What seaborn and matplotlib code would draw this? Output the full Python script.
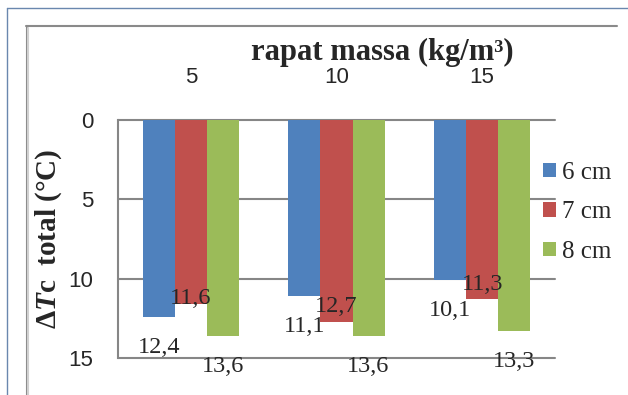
import matplotlib
matplotlib.use('Agg')
import matplotlib.pyplot as plt
import seaborn as sns
import pandas as pd
from matplotlib.lines import Line2D

# Data
rapat_massa = ['5', '10', '15']
tebal = ['6 cm', '7 cm', '8 cm']
dtc_6cm = [12.4, 11.1, 10.1]
dtc_7cm = [11.6, 12.7, 11.3]
dtc_8cm = [13.6, 13.6, 13.3]
warna = ['#4F81BD', '#C0504D', '#9BBB59']

# geser label (points), per seri
geser_label = [[-22, -22, -22], [4, 11, 11], [-22, -22, -22]]

sns.set_style('white')
plt.rcParams['font.family'] = ['Liberation Serif', 'DejaVu Serif']
plt.rcParams['mathtext.fontset'] = 'custom'
plt.rcParams['mathtext.rm'] = 'Liberation Serif:bold'
plt.rcParams['mathtext.it'] = 'Liberation Serif:bold:italic'

df = pd.DataFrame({
    'rapat': rapat_massa * 3,
    'tebal': [t for t in tebal for _ in rapat_massa],
    'dtc': dtc_6cm + dtc_7cm + dtc_8cm,
})

W, H = 628, 395
fig = plt.figure(figsize=(W / 100, H / 100), dpi=100)
ax = fig.add_axes([118 / W, 1 - 358 / H, (555 - 118) / W, (358 - 120) / H])

sns.barplot(data=df, x='rapat', y='dtc', hue='tebal', order=rapat_massa,
            hue_order=tebal, palette=warna, saturation=1, width=0.66,
            errorbar=None, linewidth=0, ax=ax)

ax.set_ylim(15, 0)
ax.set_xlim(-0.5, 2.5)
ax.set_yticks([0, 5, 10, 15])
ax.xaxis.tick_top()
ax.set_xlabel('')

grid_c = '#868686'
ax.set_axisbelow(True)
ax.yaxis.grid(True, color=grid_c, lw=1.5)
for gl in ax.get_ygridlines():
    gl.set_clip_on(False)
for s in ['top', 'right', 'bottom']:
    ax.spines[s].set_visible(False)
ax.spines['left'].set_color(grid_c)
ax.spines['left'].set_linewidth(1.5)

ax.tick_params(axis='y', direction='out', length=5, width=1.5, color=grid_c,
               pad=13, labelsize=16)
ax.tick_params(axis='x', length=0, pad=23, labelsize=16)
for lab in ax.get_xticklabels() + ax.get_yticklabels():
    lab.set_family(['Liberation Sans', 'DejaVu Sans'])

ax.set_ylabel('Δ$\\mathit{T}$c  total (°C)', fontsize=21, weight='bold', va='center')
ax.yaxis.set_label_coords((49 - 118) / 437, 0.5)

fig.text(382 / W, 1 - 52 / H, 'rapat massa (kg/m³)', fontsize=22,
         weight='bold', ha='center', va='center')

# Label nilai
for cont, dys in zip(ax.containers, geser_label):
    for bar, dy in zip(cont, dys):
        v = bar.get_height()
        ax.annotate(f'{v:.1f}'.replace('.', ','),
                    (bar.get_x() + bar.get_width() / 2, v),
                    xytext=(0, dy), textcoords='offset points',
                    ha='center', va='center', fontsize=17.5)

# Legend
old = ax.get_legend()
handles = old.legend_handles
old.remove()
ax.legend(handles, tebal, loc='center left',
          bbox_to_anchor=((543 - 118) / 437, (358 - 212.5) / 238),
          frameon=False, borderpad=0, borderaxespad=0, handlelength=0.52,
          handleheight=0.52, handletextpad=0.25, labelspacing=0.7, fontsize=18)

# Bingkai
fig.add_artist(Line2D([7 / W, 7 / W], [0, 1 - 8 / H], color='#6A87AE', lw=1))
fig.add_artist(Line2D([7 / W, 1], [1 - 8 / H, 1 - 8 / H], color='#6A87AE', lw=1))
fig.add_artist(Line2D([26.5 / W, 26.5 / W], [0, 1 - 26 / H], color='#8A8A8A', lw=1.5))
fig.add_artist(Line2D([28.5 / W, 28.5 / W], [0, 1 - 28 / H], color='#D0D0D0', lw=1.5))
fig.add_artist(Line2D([26 / W, 617 / W], [1 - 26 / H, 1 - 26 / H], color='#8A8A8A', lw=1.5))

fig.savefig('out.png', dpi=100, facecolor='white')
